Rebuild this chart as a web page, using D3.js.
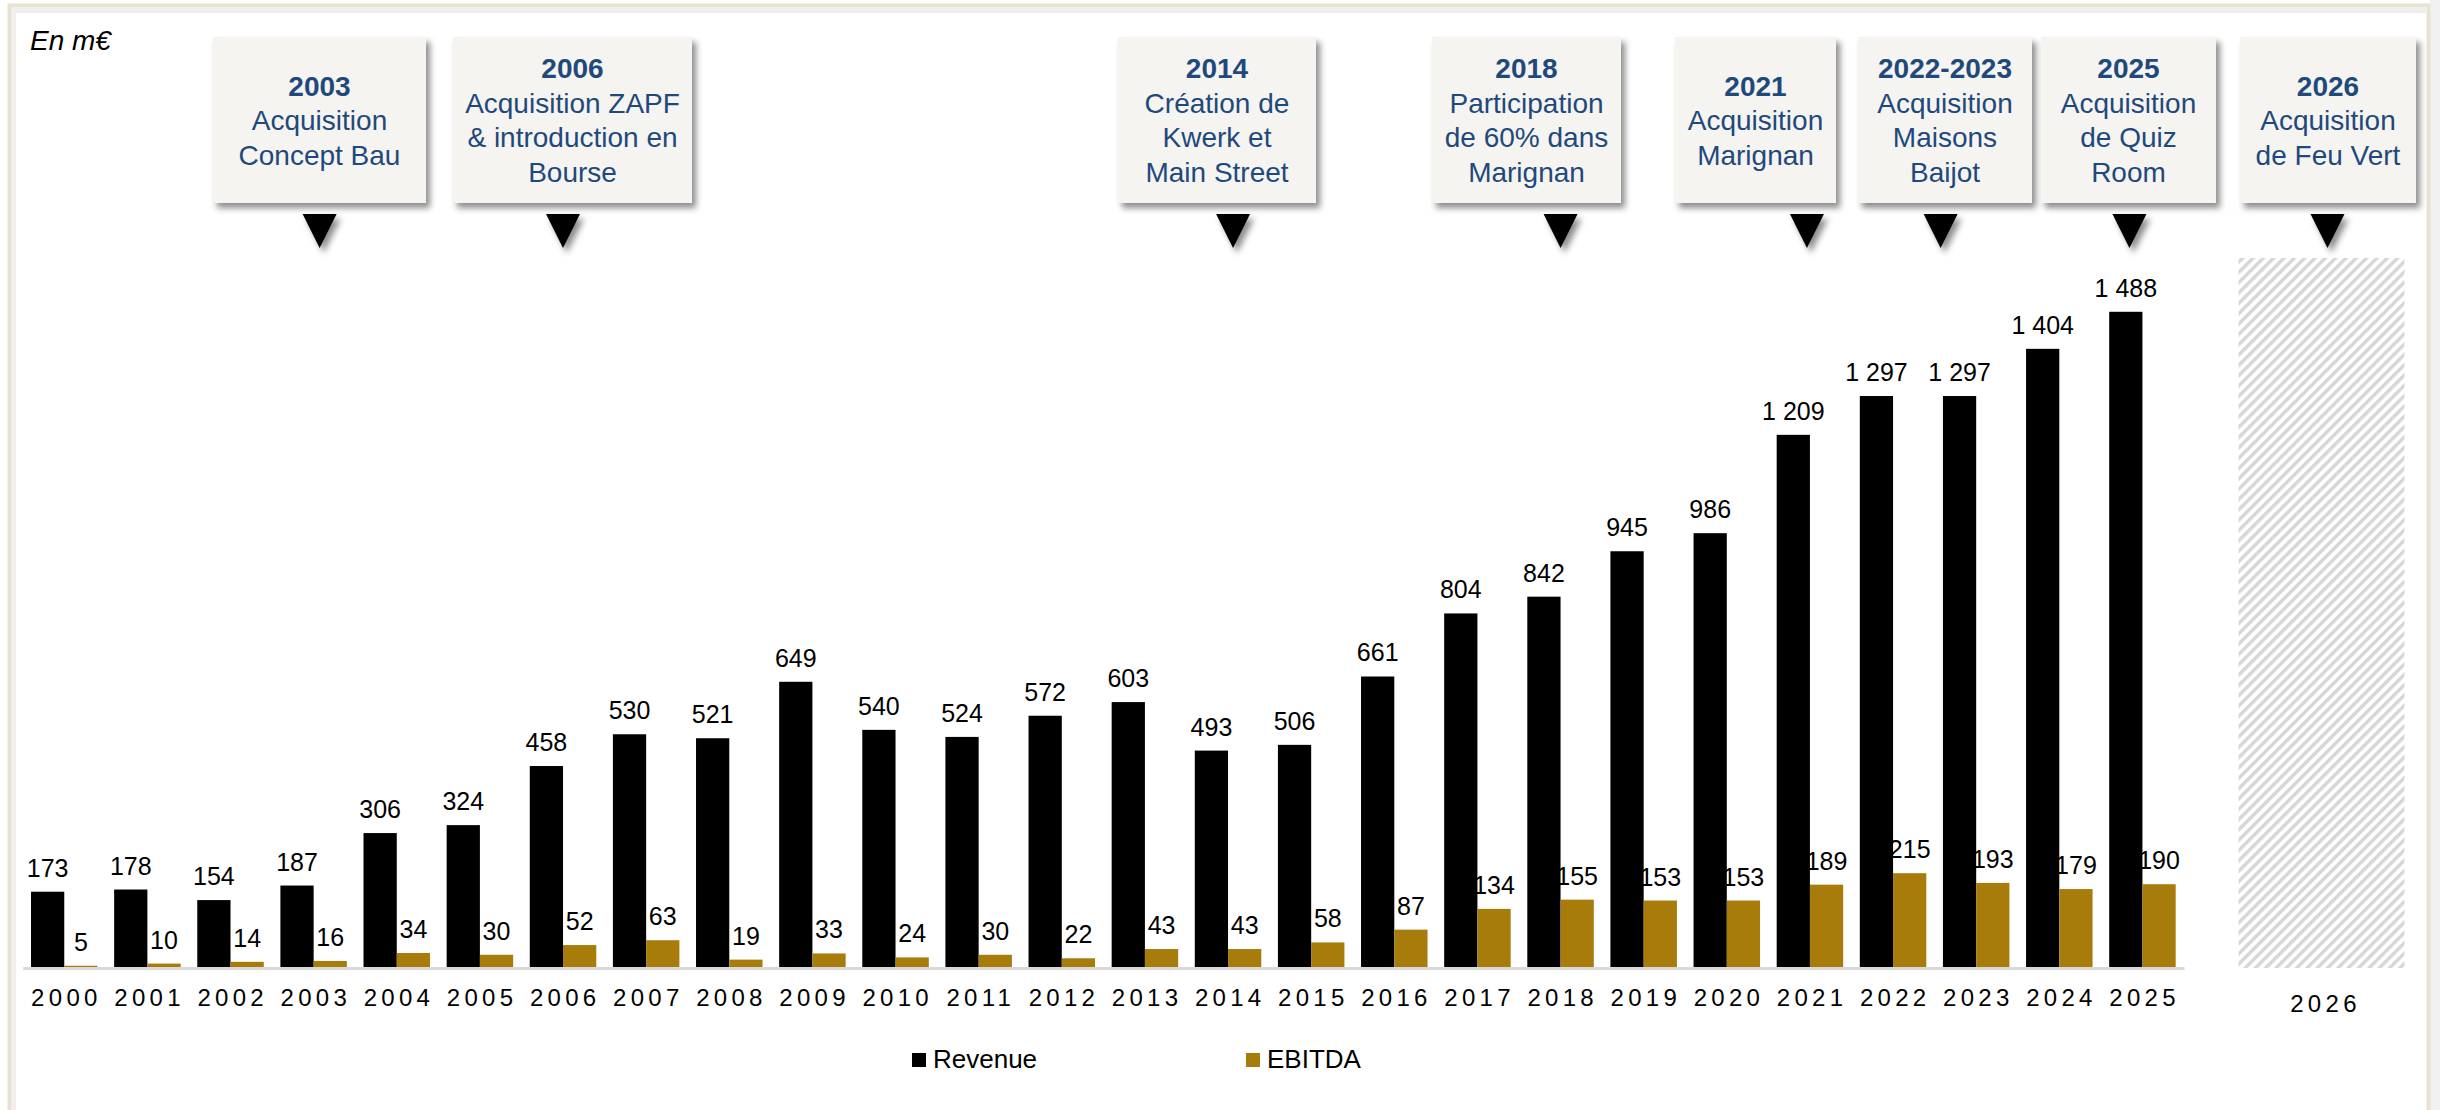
<!DOCTYPE html>
<html>
<head>
<meta charset="utf-8">
<script src="https://cdn.jsdelivr.net/npm/d3@7"></script>
<style>
  html, body { margin: 0; padding: 0; background: #ffffff; }
  svg { display: block; font-family: Arial, "Liberation Sans", sans-serif; }
</style>
</head>
<body>
<svg id="chart" width="2440" height="1110"></svg>
<script>
// ---------------- DATA ----------------
const years   = ["2000","2001","2002","2003","2004","2005","2006","2007","2008","2009","2010","2011","2012","2013","2014","2015","2016","2017","2018","2019","2020","2021","2022","2023","2024","2025"];
const revenue = [173,178,154,187,306,324,458,530,521,649,540,524,572,603,493,506,661,804,842,945,986,1209,1297,1297,1404,1488];
const ebitda  = [5,10,14,16,34,30,52,63,19,33,24,30,22,43,43,58,87,134,155,153,153,189,215,193,179,190];
const seriesNames = ["Revenue","EBITDA"];
const forecastYears = ["2026"];
const forecastPlaceholder = [1610];   // height of hatched placeholder (m€ scale)
const unitLabel = "En m€";

const eventTitles = ["2003","2006","2014","2018","2021","2022-2023","2025","2026"];
const eventLines  = [
  ["Acquisition","Concept Bau"],
  ["Acquisition ZAPF","& introduction en","Bourse"],
  ["Création de","Kwerk et","Main Street"],
  ["Participation","de 60% dans","Marignan"],
  ["Acquisition","Marignan"],
  ["Acquisition","Maisons","Baijot"],
  ["Acquisition","de Quiz","Room"],
  ["Acquisition","de Feu Vert"]
];
const eventYears = [["2003"],["2006"],["2014"],["2018"],["2021"],["2022","2023"],["2025"],["2026"]];

// ---------------- LAYOUT ----------------
const colors = { Revenue: "#000000", EBITDA: "#a87c0b" };
const boxLeft  = [213, 453, 1118, 1432, 1675, 1858, 2041, 2240];
const boxWidth = [213, 239, 198, 189, 161, 174, 175, 176];
const arrowNudge = [6, 0, 5, 0, -3, 6, -13, 6];
const boxTop = 37, boxBottom = 203;
const arrowTop = 214, arrowH = 34, arrowW = 34;

const svg = d3.select("#chart");
const defs = svg.append("defs");

// drop shadow
const f = defs.append("filter").attr("id","shadow").attr("x","-20%").attr("y","-20%").attr("width","150%").attr("height","150%");
f.append("feDropShadow").attr("dx",4).attr("dy",5).attr("stdDeviation",3)
  .attr("flood-color","#000").attr("flood-opacity",0.45);

// hatch
const pat = defs.append("pattern").attr("id","hatch").attr("patternUnits","userSpaceOnUse")
  .attr("width",7.3).attr("height",7.3).attr("patternTransform","rotate(45)");
pat.append("rect").attr("width",7.3).attr("height",7.3).attr("fill","#ffffff");
pat.append("rect").attr("x",0).attr("y",0).attr("width",3.4).attr("height",7.3).attr("fill","#d6d6d6");

// frame
svg.append("rect").attr("x",2430).attr("y",0).attr("width",10).attr("height",1110).attr("fill","#f1f1f1");
svg.append("rect").attr("x",9.5).attr("y",5.5).attr("width",2419).attr("height",1130)
  .attr("fill","#ffffff").attr("stroke","#e7e2d2").attr("stroke-width",4);
svg.append("rect").attr("x",12).attr("y",8).attr("width",2414).attr("height",5).attr("fill","#eeeeec");
svg.append("rect").attr("x",12).attr("y",8).attr("width",4).attr("height",1110).attr("fill","#f1f0ec");

// scales
const x = d3.scaleBand().domain(years).range([22.7, 2184]).paddingInner(0.2).paddingOuter(0.1);
const xs = d3.scaleBand().domain(seriesNames).range([0, x.bandwidth()]);
const xf = d3.scaleBand().domain(forecastYears).range([2222, 2421]).paddingInner(0).paddingOuter(0.1);
const y = d3.scaleLinear().domain([0, 1500]).range([968, 968 - 1500 * 0.441]);

const fmt = d3.formatLocale({decimal: ",", thousands: " ", grouping: [3], currency: ["", " €"]}).format(",d");

const rows = years.map((yr, i) => ({year: yr, Revenue: revenue[i], EBITDA: ebitda[i]}));

// forecast hatched placeholder
svg.append("g").selectAll("rect").data(forecastYears).join("rect")
  .attr("x", d => xf(d)).attr("width", xf.bandwidth())
  .attr("y", (d, i) => y(forecastPlaceholder[i]))
  .attr("height", (d, i) => y(0) - y(forecastPlaceholder[i]))
  .attr("fill", "url(#hatch)");
svg.append("g").selectAll("text").data(forecastYears).join("text")
  .attr("x", d => xf(d) + xf.bandwidth() / 2 + 4).attr("y", 1012)
  .attr("text-anchor","middle").attr("font-size",24).attr("letter-spacing",4.3)
  .attr("fill","#000").text(d => d);

// bars
const groups = svg.append("g").selectAll("g").data(rows).join("g")
  .attr("transform", d => `translate(${x(d.year)},0)`);
groups.selectAll("rect").data(d => seriesNames.map(k => ({key: k, value: d[k]}))).join("rect")
  .attr("x", d => xs(d.key)).attr("width", xs.bandwidth())
  .attr("y", d => y(d.value)).attr("height", d => y(0) - y(d.value))
  .attr("fill", d => colors[d.key]);
groups.selectAll("text").data(d => seriesNames.map(k => ({key: k, value: d[k]}))).join("text")
  .attr("x", d => xs(d.key) + xs.bandwidth() / 2)
  .attr("y", d => y(d.value) - 15)
  .attr("text-anchor","middle").attr("font-size",25).attr("fill","#000")
  .text(d => fmt(d.value));

// axis
const axis = svg.append("g").attr("transform", `translate(0,${y(0)})`)
  .call(d3.axisBottom(x).tickSize(0).tickSizeOuter(0));
axis.select(".domain").attr("stroke","#d9d9d9").attr("stroke-width",3);
axis.selectAll(".tick text").attr("y",38).attr("dy",0).attr("dx",2.15)
  .attr("font-size",24).attr("letter-spacing",4.3).attr("fill","#000")
  .attr("font-family","Arial, 'Liberation Sans', sans-serif");

// unit label
svg.append("text").attr("x",30).attr("y",50).attr("font-size",28).attr("font-style","italic")
  .attr("fill","#000").text(unitLabel);

// legend
const legend = svg.append("g").selectAll("g").data(seriesNames).join("g")
  .attr("transform", (d, i) => `translate(${912 + i * 334},0)`);
legend.append("rect").attr("x",0).attr("y",1053).attr("width",14).attr("height",14)
  .attr("fill", d => colors[d]);
legend.append("text").attr("x",21).attr("y",1068).attr("font-size",26).attr("fill","#000").text(d => d);

// event boxes
const ev = svg.append("g").selectAll("g").data(eventTitles).join("g");
ev.append("rect")
  .attr("x", (d, i) => boxLeft[i]).attr("y", boxTop)
  .attr("width", (d, i) => boxWidth[i]).attr("height", boxBottom - boxTop)
  .attr("fill","#f5f4f0").attr("filter","url(#shadow)");
const lineH = 34.5;
ev.each(function(d, i) {
  const g = d3.select(this);
  const lines = [d].concat(eventLines[i]);
  const cx = boxLeft[i] + boxWidth[i] / 2;
  const cy = (boxTop + boxBottom) / 2;
  const startY = cy - (lines.length - 1) * lineH / 2;
  lines.forEach((t, j) => {
    g.append("text").attr("x", cx).attr("y", startY + j * lineH + 10)
      .attr("text-anchor","middle").attr("font-size",28)
      .attr("font-weight", j === 0 ? "bold" : "normal")
      .attr("fill","#1f497d").text(t);
  });
  // arrow
  const ys = eventYears[i];
  const centers = ys.map(yr => years.includes(yr) ? x(yr) + x.bandwidth() / 2 : xf(yr) + xf.bandwidth() / 2);
  const ax = d3.mean(centers) + arrowNudge[i];
  g.append("path")
    .attr("d", `M${ax - arrowW / 2},${arrowTop} L${ax + arrowW / 2},${arrowTop} L${ax},${arrowTop + arrowH} Z`)
    .attr("fill","#000").attr("filter","url(#shadow)");
});
</script>
</body>
</html>
